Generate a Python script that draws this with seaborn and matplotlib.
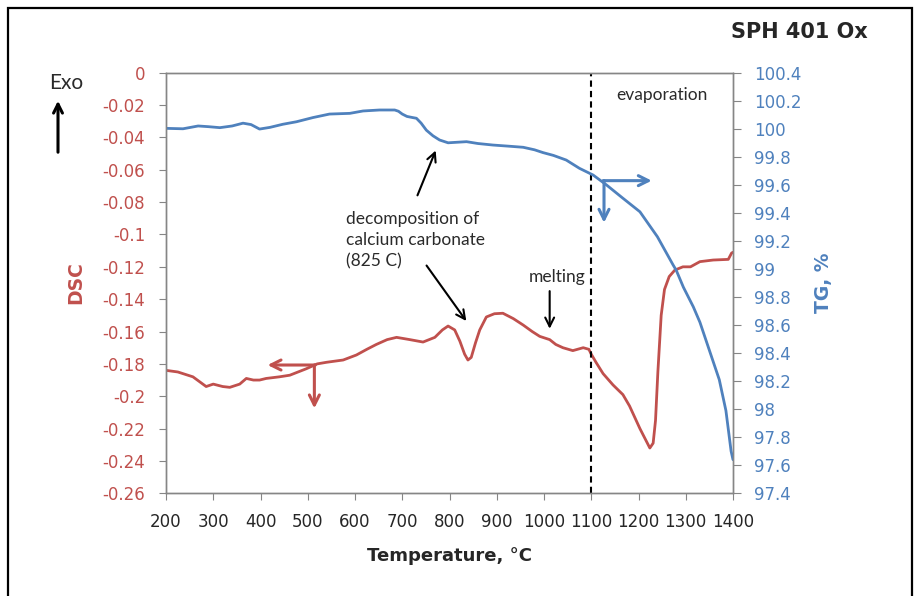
import matplotlib
matplotlib.use("Agg")
import matplotlib.pyplot as plt
from matplotlib.patches import Rectangle, FancyArrowPatch
from matplotlib.ticker import FuncFormatter, MultipleLocator
import pandas as pd
import seaborn as sns

# DSC signal (left axis)
dsc_temp = [200, 225, 257, 285, 300, 320, 335, 356, 370, 385, 398, 412, 440, 462,
            497, 520, 540, 575, 603, 625, 645, 668, 688, 716, 744, 769, 785, 797,
            811, 822, 832, 839, 846, 855, 864, 878, 895, 913, 935, 956, 975, 991,
            1012, 1025, 1040, 1061, 1083, 1095, 1100, 1110, 1125, 1146, 1167, 1181,
            1203, 1224, 1231, 1236, 1241, 1248, 1255, 1265, 1277, 1294, 1310, 1330,
            1358, 1390, 1397, 1400]
dsc_val = [-0.184, -0.185, -0.188, -0.194, -0.1925, -0.194, -0.1945, -0.1925, -0.189,
           -0.190, -0.190, -0.189, -0.188, -0.187, -0.183, -0.180, -0.179, -0.1776,
           -0.1745, -0.171, -0.168, -0.165, -0.1636, -0.165, -0.1665, -0.1636, -0.159,
           -0.1566, -0.159, -0.166, -0.174, -0.1776, -0.176, -0.167, -0.159, -0.151,
           -0.149, -0.1487, -0.152, -0.156, -0.160, -0.163, -0.165, -0.168, -0.170,
           -0.1718, -0.170, -0.171, -0.174, -0.179, -0.186, -0.193, -0.199, -0.206,
           -0.220, -0.232, -0.229, -0.215, -0.185, -0.150, -0.134, -0.126, -0.122,
           -0.120, -0.120, -0.1168, -0.1158, -0.1154, -0.1115, -0.111]

# TG signal (right axis)
tg_temp = [200, 236, 268, 290, 314, 340, 363, 380, 398, 420, 447, 476, 511, 546, 589,
           617, 652, 684, 692, 700, 710, 722, 730, 740, 751, 765, 779, 797, 836, 860,
           892, 925, 956, 980, 998, 1020, 1047, 1075, 1104, 1132, 1165, 1203, 1240,
           1273, 1280, 1295, 1316, 1330, 1350, 1371, 1385, 1396, 1400]
tg_val = [100.003, 100.0, 100.02, 100.015, 100.008, 100.02, 100.04, 100.03, 99.998,
          100.01, 100.032, 100.05, 100.08, 100.105, 100.11, 100.127, 100.134, 100.134,
          100.125, 100.105, 100.088, 100.08, 100.075, 100.04, 99.99, 99.95, 99.92,
          99.90, 99.908, 99.895, 99.884, 99.876, 99.868, 99.85, 99.83, 99.81, 99.777,
          99.718, 99.67, 99.60, 99.51, 99.408, 99.23, 99.03, 98.99, 98.87, 98.73,
          98.62, 98.42, 98.21, 97.99, 97.70, 97.64]

x_ticks = list(range(200, 1401, 100))
evaporation_start = 1100

RED = "#C0504D"
BLUE = "#4F81BD"
GRAY = "#868686"

sns.set_style("white")
plt.rcParams["font.family"] = ["DejaVu Sans"]
plt.rcParams["axes.unicode_minus"] = False

dsc_df = pd.DataFrame({"Temperature": dsc_temp, "DSC": dsc_val})
tg_df = pd.DataFrame({"Temperature": tg_temp, "TG": tg_val})

fig = plt.figure(figsize=(9.14, 5.96), dpi=100)
ax = fig.add_axes([166 / 914, 1 - 493.3 / 596, 567 / 914, 420.6 / 596])
ax2 = ax.twinx()

sns.lineplot(data=dsc_df, x="Temperature", y="DSC", ax=ax, color=RED, lw=2.0,
             sort=False, estimator=None)
sns.lineplot(data=tg_df, x="Temperature", y="TG", ax=ax2, color=BLUE, lw=2.0,
             sort=False, estimator=None)

ax.set_xlim(200, 1400)
ax.set_ylim(-0.26, 0)
ax2.set_ylim(97.4, 100.4)
ax.set_xticks(x_ticks)
ax.yaxis.set_major_locator(MultipleLocator(0.02))
ax2.yaxis.set_major_locator(MultipleLocator(0.2))
ax.yaxis.set_major_formatter(FuncFormatter(lambda v, p: f"{round(v, 2) + 0:g}"))
ax2.yaxis.set_major_formatter(FuncFormatter(lambda v, p: f"{round(v, 1):g}"))

for a in (ax, ax2):
    for s in a.spines.values():
        s.set_color(GRAY)
        s.set_linewidth(1.0)

ax.tick_params(axis="x", direction="out", length=5, color=GRAY, labelsize=12,
               pad=9, bottom=True)
ax.tick_params(axis="y", direction="out", length=5, color=GRAY, labelsize=12,
               labelcolor=RED, pad=10, left=True)
ax2.tick_params(axis="y", direction="out", length=6, color=GRAY, labelsize=12,
                labelcolor=BLUE, pad=9, right=True)

ax.set_xlabel("Temperature, °C", fontsize=13, fontweight="bold", labelpad=12)
ax.set_ylabel("DSC", fontsize=13.5, fontweight="bold", color=RED)
ax.yaxis.set_label_coords(-0.143, 0.5)
ax2.set_ylabel("TG, %", fontsize=13.5, fontweight="bold", color=BLUE)
ax2.yaxis.set_label_coords(1.143, 0.5)

# start of evaporation
ax.axvline(evaporation_start, color="black", lw=1.5, ls=(0, (3, 2)))

note_font = dict(family=["Lato", "DejaVu Sans"], fontsize=12.5, color="#2a2a2a")
ax.text(1250, -0.0138, "evaporation", ha="center", va="center", **note_font)
ax.text(582, -0.1034, "decomposition of\ncalcium carbonate\n(825 C)", ha="left",
        va="center", linespacing=1.4, **note_font)
ax.text(1027, -0.126, "melting", ha="center", va="center", **note_font)

black_arrow = dict(arrowstyle="->", color="black", lw=1.5, mutation_scale=16)
ax.annotate("", xy=(773, -0.0465), xytext=(730, -0.0774), arrowprops=black_arrow)
ax.annotate("", xy=(839, -0.1549), xytext=(748, -0.1178), arrowprops=black_arrow)
ax.annotate("", xy=(1012, -0.160), xytext=(1012, -0.1333), arrowprops=black_arrow)

# axis-assignment arrows
red_arrow = dict(arrowstyle="->", color=RED, lw=2.2, mutation_scale=18,
                 shrinkA=0, shrinkB=0)
ax.annotate("", xy=(415, -0.1807), xytext=(516, -0.1807), arrowprops=red_arrow)
ax.annotate("", xy=(514, -0.2075), xytext=(514, -0.1807), arrowprops=red_arrow)
blue_arrow = dict(arrowstyle="->", color=BLUE, lw=2.2, mutation_scale=18,
                  shrinkA=0, shrinkB=0)
ax2.annotate("", xy=(1228, 99.63), xytext=(1125, 99.63), arrowprops=blue_arrow)
ax2.annotate("", xy=(1127, 99.33), xytext=(1127, 99.63), arrowprops=blue_arrow)

# exothermic direction marker
fig.text(66 / 914, 1 - 83 / 596, "Exo", ha="center", va="center", fontsize=15,
         family=["Lato", "DejaVu Sans"], color="#2a2a2a")
fig.add_artist(FancyArrowPatch(
    (58 / 914, 1 - 155 / 596), (58 / 914, 1 - 98 / 596), transform=fig.transFigure,
    arrowstyle="->", color="black", lw=2.2, mutation_scale=16))

fig.text(799 / 914, 1 - 32 / 596, "SPH 401 Ox", ha="center", va="center",
         fontsize=15, fontweight="bold")

fig.add_artist(Rectangle((8 / 914, -0.05), (912 - 8) / 914, 1.05 - 8 / 596,
                         transform=fig.transFigure, fill=False, edgecolor="black",
                         lw=1.6))

fig.savefig("out.png", dpi=100)
